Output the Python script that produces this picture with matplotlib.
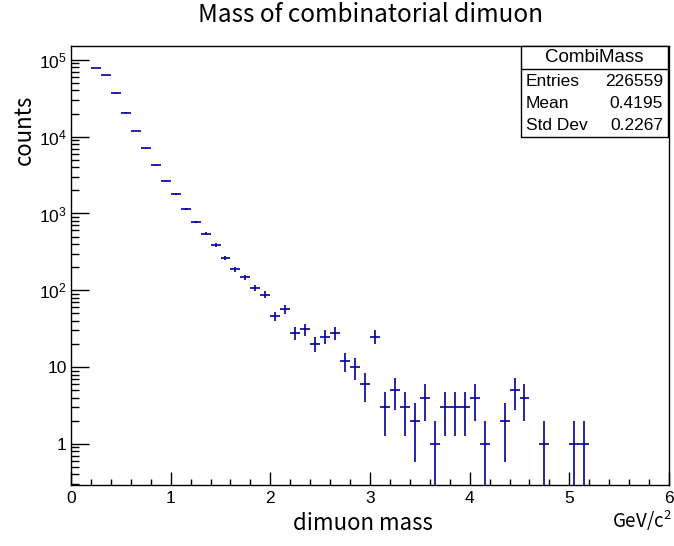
import numpy as np
import matplotlib
matplotlib.use("Agg")
import matplotlib.pyplot as plt
from matplotlib.patches import Rectangle
from matplotlib.ticker import FixedLocator, LogLocator, MultipleLocator, NullFormatter

# histogram binning: 60 bins of 0.1 GeV/c^2 between 0 and 6
bin_edges = np.linspace(0.0, 6.0, 61)

# bin contents (empty bins are not drawn on the log scale)
counts = [
    0, 0, 77400, 63400, 36500, 20500, 11800, 7080, 4250, 2660,
    1800, 1160, 777, 547, 389, 261, 189, 147, 107, 88,
    46, 57, 28, 31, 20, 25, 28, 12, 10, 6,
    25, 3, 5, 3, 2, 4, 1, 3, 3, 3,
    4, 1, 0, 2, 5, 4, 0, 1, 0, 0,
    1, 1, 0, 0, 0, 0, 0, 0, 0, 0,
]

hist_name = "CombiMass"
stat_names = ["Entries", "Mean", "Std Dev"]
stat_values = ["226559", "0.4195", "0.2267"]

ytick_vals = [1, 10, 100, 1000, 10000, 100000]
ytick_text = ["1", "10", r"$\mathregular{10^{2}}$", r"$\mathregular{10^{3}}$",
              r"$\mathregular{10^{4}}$", r"$\mathregular{10^{5}}$"]

plt.rcParams["font.family"] = ["Liberation Sans", "DejaVu Sans"]
plt.rcParams["mathtext.fontset"] = "custom"
plt.rcParams["mathtext.rm"] = "Liberation Sans"

W, H = 674, 546
fig = plt.figure(figsize=(W / 100, H / 100), dpi=100)

# frame in pixel units
x0, x1, y_top, y_bot = 71, 669, 46, 485
ax = fig.add_axes([x0 / W, 1 - y_bot / H, (x1 - x0) / W, (y_bot - y_top) / H])

col = "#000099"
counts = np.array(counts, dtype=float)
lo = bin_edges[:-1]
hi = bin_edges[1:]
centers = 0.5 * (lo + hi)
filled = counts > 0
err = np.sqrt(counts)

ax.hlines(counts[filled], lo[filled], hi[filled], colors=col, lw=1.2)
ax.vlines(centers[filled], np.maximum(counts[filled] - err[filled], 1e-3),
          counts[filled] + err[filled], colors=col, lw=1.2)

ax.set_yscale("log")
ax.set_xlim(0, 6)
ax.set_ylim(10 ** -0.535, 10 ** 5.18)

ax.xaxis.set_major_locator(MultipleLocator(1))
ax.xaxis.set_minor_locator(MultipleLocator(0.2))
ax.yaxis.set_major_locator(FixedLocator(ytick_vals))
ax.set_yticklabels(ytick_text)
ax.yaxis.set_minor_locator(LogLocator(base=10, subs=np.arange(2, 10)))
ax.yaxis.set_minor_formatter(NullFormatter())

ax.tick_params(axis="both", which="both", direction="in", top=False, right=False,
               labelsize=12.5, colors="black")
ax.tick_params(axis="x", which="major", length=9.5, width=1.0, pad=4)
ax.tick_params(axis="x", which="minor", length=4.5, width=1.0)
ax.tick_params(axis="y", which="major", length=13, width=1.0, pad=3)
ax.tick_params(axis="y", which="minor", length=6, width=1.0)
for s in ax.spines.values():
    s.set_linewidth(1.0)

cjk = ["Noto Sans CJK JP", "DejaVu Sans"]
fig.text(370 / W, 1 - 15 / H, "Mass of combinatorial dimuon", ha="center",
         va="center", fontsize=17.5, family=cjk)
fig.text(24 / W, 1 - 130 / H, "counts", ha="center", va="center",
         rotation=90, fontsize=16, family=cjk)
fig.text(363 / W, 1 - 524 / H, "dimuon mass", ha="center", va="center",
         fontsize=16, family=cjk)
fig.text(672 / W, 1 - 521 / H, r"GeV/c$^{\mathregular{2}}$", ha="right",
         va="center", fontsize=13.5, family=cjk)

# statistics box
bx0, bx1, by0, by1, bsep = 521, 668, 46, 137, 69
fig.patches.append(Rectangle((bx0 / W, 1 - by1 / H), (bx1 - bx0) / W,
                             (by1 - by0) / H, transform=fig.transFigure,
                             facecolor="white", edgecolor="black", lw=1.0,
                             zorder=5))
fig.add_artist(plt.Line2D([bx0 / W, bx1 / W], [1 - bsep / H, 1 - bsep / H],
                          transform=fig.transFigure, color="black", lw=1.0,
                          zorder=6))
fig.text((bx0 + bx1) / 2 / W, 1 - 58 / H, hist_name, ha="center", va="center",
         fontsize=13.5, zorder=7)
for i, (name, val) in enumerate(zip(stat_names, stat_values)):
    yy = 1 - (81 + 22 * i) / H
    fig.text((bx0 + 5) / W, yy, name, ha="left", va="center", fontsize=12.5,
             zorder=7)
    fig.text((bx1 - 5) / W, yy, val, ha="right", va="center", fontsize=12.5,
             zorder=7)

fig.savefig("out.png", dpi=100)
